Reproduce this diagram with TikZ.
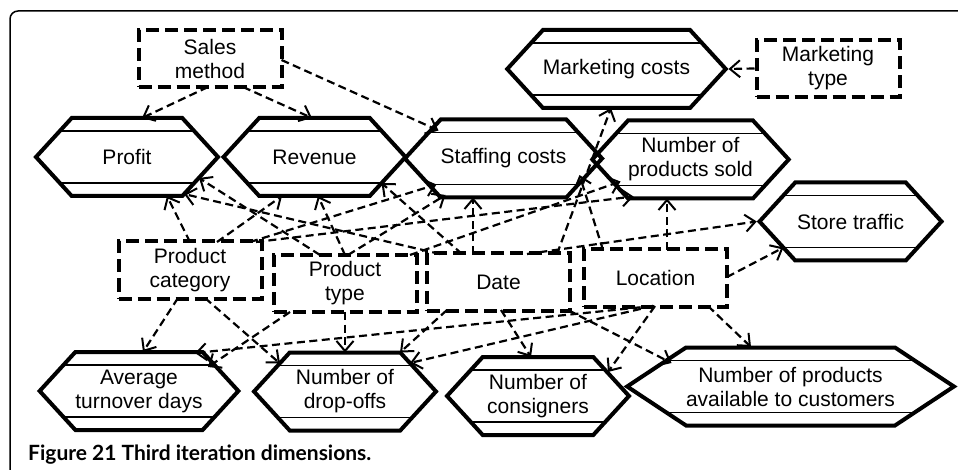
\documentclass[tikz,border=0pt]{standalone}
\usepackage{fontspec}
\setmainfont{Liberation Sans}
\newfontfamily\figfont{Lato}
\usetikzlibrary{shapes.symbols,arrows.meta,calc}

\tikzset{
  dim/.style={draw, line width=4pt, dash pattern=on 13pt off 6pt,
    minimum width=143pt, minimum height=57pt, inner sep=0pt, align=center,
    font=\fontsize{21}{24}\selectfont},
  fact/.style={shape=signal, signal to=west and east, signal pointer angle=95,
    draw, line width=4pt, minimum width=182pt, minimum height=78pt,
    inner sep=0pt, align=center, font=\fontsize{21}{24}\selectfont,
    path picture={
      \draw[line width=1.2pt] ([yshift=-13pt]path picture bounding box.north west) -- ([yshift=-13pt]path picture bounding box.north east);
      \draw[line width=1.2pt] ([yshift=13pt]path picture bounding box.south west) -- ([yshift=13pt]path picture bounding box.south east);
    }},
  link/.style={-{Straight Barb[length=10pt,width=17pt,line width=2pt]}, line width=2.2pt,
    dash pattern=on 8pt off 4.5pt},
}

\begin{document}
\begin{tikzpicture}[x=1pt,y=-1pt]
                \useasboundingbox (0,0) rectangle (958,470);
                %% frame
                \draw[line width=1.5pt, rounded corners=8pt] (958,11) -- (10,11) -- (10,470);

                %% measures
                \node[fact] (profit)   at (127,157)   {Profit};
                \node[fact] (revenue)  at (314.5,157) {Revenue};
                \node[fact] (staff)    at (503.5,158.5) {Staffing costs};
                \node[fact] (mcost)    at (616.5,69)  {Marketing costs};
                \node[fact] (sold)     at (690.5,159.5) {Number of\\products sold};
                \node[fact] (traffic)  at (850.5,221.5) {Store traffic};
                \node[fact] (turnover) at (139,391)   {Average\\turnover days};
                \node[fact] (dropoff)  at (345,391.5) {Number of\\drop-offs};
                \node[fact] (consign)  at (538,396)   {Number of\\consigners};
                \node[fact, minimum width=309pt, signal pointer angle=67] (avail) at (790.5,386.5) {Number of products\\available to customers};

                %% dimensions
                \node[dim] (sales) at (210,58.5)   {Sales\\method};
                \node[dim] (mtype) at (828,68.5)   {Marketing\\type};
                \node[dim] (pcat)  at (190,270)    {Product\\category};
                \node[dim] (ptype) at (345,283.5)  {Product\\type};
                \node[dim] (date)  at (498.5,282)  {Date};
                \node[dim] (loc)   at (655.5,278)  {Location};

                %Sales method
                \draw[link] ($(sales)+(-2,28.5)$) -- ($(profit)+(15,-39)$);
                \draw[link] ($(sales)+(33,28.5)$) -- ($(revenue)+(-2.5,-39)$);
                \draw[link] ($(sales)+(71.5,1.5)$) -- ($(staff)+(-65,-28)$);

                %Marketing type
                \draw[link] (mtype.west) -- (mcost.east);

                %Product category
                \draw[link] ($(pcat)+(0,-28)$) -- ($(profit)+(40,39)$);
                \draw[link] ($(pcat)+(27,-28)$) -- ($(revenue)+(-32.5,39)$);
                \draw[link] ($(pcat)+(60,-28)$) -- ($(staff)+(-67,26)$);
                \draw[link] ($(pcat)+(66,-28)$) -- ($(sold)+(-57,37)$);
                \draw[link] ($(pcat)+(-12,28)$) -- ($(turnover)+(4,-39)$);
                \draw[link] ($(pcat)+(15,28)$) -- ($(dropoff)+(-65,-28)$);

                %Product type
                \draw[link] ($(ptype)+(-25,-28.5)$) -- ($(profit)+(72,21)$);
                \draw[link] ($(ptype)+(0,-28.5)$) -- ($(revenue)+(3.5,39)$);
                \draw[link] ($(ptype)+(3,-28.5)$) -- ($(staff)+(-58,36.5)$);
                \draw[link] ($(ptype)+(65,-28.5)$) -- ($(sold)+(-70,22)$);
                \draw[link] ($(ptype)+(-55,28.5)$) -- ($(turnover)+(69,-24)$);
                \draw[link] ($(ptype)+(0,28.5)$) -- ($(dropoff)+(0,-39)$);

                %Date
                \draw[link] ($(date)+(-58.5,-28)$) -- ($(profit)+(57,37)$);
                \draw[link] ($(date)+(-36.5,-28)$) -- ($(revenue)+(67,26)$);
                \draw[link] ($(date)+(-25.5,-28)$) -- ($(staff)+(-30.5,39)$);
                \draw[link] ($(date)+(58.5,-28)$) -- ($(mcost)+(-5.5,39)$);
                \draw[link] ($(date)+(28.5,-28)$) -- (traffic.west);
                \draw[link] ($(date)+(-51.5,28)$) -- ($(dropoff)+(55,-39)$);
                \draw[link] ($(date)+(2.5,28)$) -- ($(consign)+(-7,-39)$);
                \draw[link] ($(date)+(69.5,28)$) -- ($(avail)+(-119,-23.5)$);

                %Location
                \draw[link] ($(loc)+(-52.5,-28)$) -- ($(staff)+(76,16.5)$);
                \draw[link] ($(loc)+(11.5,-28)$) -- ($(sold)+(-23.5,39)$);
                \draw[link] ($(loc)+(71.5,-1)$) -- ($(traffic)+(-67,26)$);
                \draw[link] ($(loc)+(-2.5,28)$) -- ($(turnover)+(56,-38)$);
                \draw[link] ($(loc)+(-2.5,28)$) -- ($(dropoff)+(65,-28.5)$);
                \draw[link] ($(loc)+(-0.5,28)$) -- ($(consign)+(70,-24)$);
                \draw[link] ($(loc)+(52.5,28)$) -- ($(avail)+(-39.5,-39.5)$);

                %% caption
                \node[anchor=base west, inner sep=0pt, font=\figfont\bfseries\fontsize{21}{24}\selectfont] (caption) at (28,460) {Figure 21 Third iteration dimensions.};

            \end{tikzpicture}
\end{document}
